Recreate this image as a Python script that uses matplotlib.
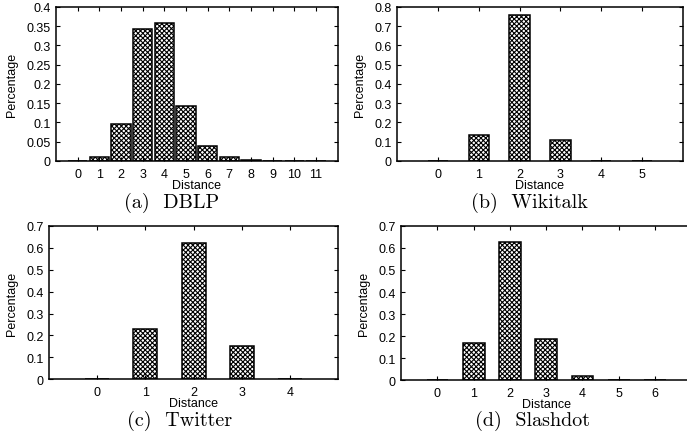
import numpy as np
import matplotlib
matplotlib.use("Agg")
import matplotlib.pyplot as plt
import matplotlib.transforms as mtransforms
from matplotlib.ticker import FuncFormatter

#%% Data
dblp_dist = [0, 1, 2, 3, 4, 5, 6, 7, 8, 9, 10, 11]
dblp_pct = [0.0, 0.010, 0.097, 0.342, 0.358, 0.143, 0.040, 0.010, 0.003, 0.001, 0.0005, 0.0]

wiki_dist = [0, 1, 2, 3, 4, 5]
wiki_pct = [0.0, 0.133, 0.757, 0.110, 0.002, 0.0]

twitter_dist = [0, 1, 2, 3, 4]
twitter_pct = [0.002, 0.227, 0.622, 0.151, 0.002]

slash_dist = [0, 1, 2, 3, 4, 5, 6]
slash_pct = [0.002, 0.168, 0.627, 0.188, 0.017, 0.002, 0.001]

captions = ["(a)  DBLP", "(b)  Wikitalk", "(c)  Twitter", "(d)  Slashdot"]

#%% Style
plt.rcParams['font.family'] = ['Liberation Sans', 'DejaVu Sans']
plt.rcParams['hatch.linewidth'] = 0.8
plt.rcParams['axes.linewidth'] = 1.1

fig = plt.figure(figsize=(6.87, 4.39), dpi=100)

# rect = [left, bottom, width, height] in figure fractions
panels = [
    dict(x=dblp_dist, y=dblp_pct, rect=[0.0815, 0.631, 0.410, 0.351], xmax=12,
         ymax=0.4, ystep=0.05, bw=0.9, ylab_x=0.0262, cap=(0.25, 0.537)),
    dict(x=wiki_dist, y=wiki_pct, rect=[0.578, 0.631, 0.416, 0.351], xmax=6,
         ymax=0.8, ystep=0.1, bw=0.5, ylab_x=0.533, cap=(0.771, 0.537)),
    dict(x=twitter_dist, y=twitter_pct, rect=[0.0713, 0.134, 0.421, 0.349], xmax=5,
         ymax=0.7, ystep=0.1, bw=0.5, ylab_x=0.0262, cap=(0.261, 0.041)),
    dict(x=slash_dist, y=slash_pct, rect=[0.584, 0.132, 0.422, 0.351], xmax=7,
         ymax=0.7, ystep=0.1, bw=0.6, ylab_x=0.5386, cap=(0.775, 0.041)),
]

fmt = FuncFormatter(lambda v, p: "{:g}".format(round(v, 3)))

for p, cap in zip(panels, captions):
    ax = fig.add_axes(p["rect"])
    ax.bar(p["x"], p["y"], width=p["bw"], color="white", edgecolor="black",
           linewidth=1.1, hatch="xxxxxxx")
    ax.set_xlim(-1, p["xmax"])
    ax.set_ylim(0, p["ymax"])
    ax.set_xticks(p["x"])
    ax.set_yticks(np.arange(0, p["ymax"] + p["ystep"] / 2, p["ystep"]))
    ax.yaxis.set_major_formatter(fmt)
    ax.tick_params(direction="in", top=True, right=True, length=3,
                   width=0.8, labelsize=9)
    ax.tick_params(axis="x", pad=5)
    ax.tick_params(axis="y", pad=4)
    ax.set_xlabel("Distance", fontsize=9, labelpad=-1)
    ax.set_ylabel("Percentage", fontsize=9)
    trans = mtransforms.blended_transform_factory(fig.transFigure, ax.transAxes)
    ax.yaxis.set_label_coords(p["ylab_x"], 0.5, transform=trans)
    fig.text(p["cap"][0], p["cap"][1], cap, family="cmr10", fontsize=14.5,
             ha="center", va="center")

plt.savefig("out.png", dpi=100)
